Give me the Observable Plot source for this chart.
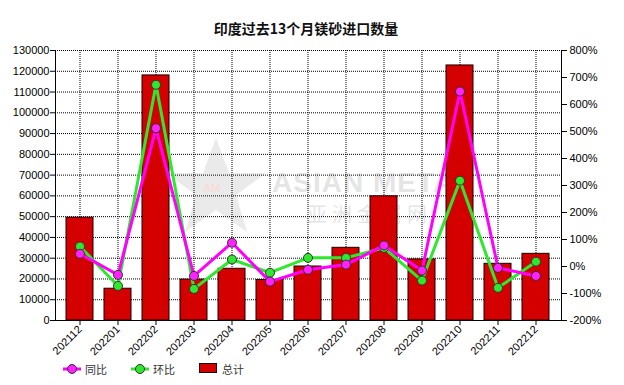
<!DOCTYPE html>
<html><head><meta charset="utf-8">
<script src="https://cdn.jsdelivr.net/npm/d3@7"></script>
<script src="https://cdn.jsdelivr.net/npm/@observablehq/plot@0.6"></script>
<style>
body{margin:0;background:#fff;width:624px;height:385px;position:relative;overflow:hidden;font-family:"Liberation Sans",Arial,sans-serif}
#title{position:absolute;left:0;top:19px;width:612px;text-align:center;font-family:"Noto Sans CJK SC",sans-serif;font-weight:bold;font-size:14px;line-height:18px;color:#111}
#chart{position:absolute;left:0;top:40px}
#wm{position:absolute;left:0;top:0;width:624px;height:385px;pointer-events:none}
.lg{position:absolute;font-family:"Noto Sans CJK SC",sans-serif;font-size:11px;color:#333;line-height:14px}
</style></head>
<body>
<svg id="wm" width="624" height="385">
  <g opacity="0.3">
    <polygon points="216,138 229,173 266,173 236,195 247,232 216,210 185,232 196,195 166,173 203,173" fill="#bbb"/>
    <text x="203" y="192" font-family="Liberation Sans,Arial" font-size="11" font-weight="bold" fill="#e88">AM</text>
    <text x="272" y="192" font-family="Liberation Sans,Arial" font-weight="bold" font-size="28" fill="#aaa" letter-spacing="1">ASIAN METAL</text>
    <text x="307" y="222" font-family="Noto Sans CJK SC" font-size="20" fill="#aaa" letter-spacing="5">亚洲金属网</text>
  </g>
</svg>
<div id="title">印度过去13个月镁砂进口数量</div>
<div id="chart"></div>
<div id="legend"></div>
<script>
const months = ["202112","202201","202202","202203","202204","202205","202206","202207","202208","202209","202210","202211","202212"];
const totals = [49500, 15300, 118000, 19700, 24900, 19500, 26000, 35000, 59800, 29400, 122800, 27300, 32100];
const yoy = [47, -31, 512, -35, 88, -56, -12, 7, 78, -15, 648, -5, -35];
const mom = [74, -72, 673, -83, 26, -23, 32, 32, 69, -52, 318, -79, 18];
const leftTicks = d3.range(0, 130001, 10000);
const rightTicks = d3.range(-200, 801, 100);
const seriesNames = ["同比", "环比", "总计"];

const pctToY = p => (p + 200) * 130;
const rows = months.map((m, i) => ({month: m, total: totals[i], yoy: yoy[i], mom: mom[i]}));
const grid = {stroke: "#000", strokeOpacity: 1, strokeDasharray: "1,1"};

const chart = Plot.plot({
  width: 624, height: 320,
  marginTop: 10, marginBottom: 40, marginLeft: 55, marginRight: 63,
  style: {fontFamily: "Liberation Sans, Arial, sans-serif", fontSize: "11px", color: "#000", background: "transparent"},
  x: {domain: months, paddingInner: 0.28, paddingOuter: 0.13, label: null},
  y: {domain: [0, 130000], label: null},
  marks: [
    Plot.gridY(leftTicks, grid),
    Plot.gridX(grid),
    Plot.barY(rows, {x: "month", y: "total", fill: "#d40000", stroke: "#1a0000", strokeWidth: 1}),
    Plot.line(rows, {x: "month", y: d => pctToY(d.mom), stroke: "#2ee82e", strokeWidth: 3}),
    Plot.dot(rows, {x: "month", y: d => pctToY(d.mom), r: 4.5, fill: "#2ee82e", stroke: "#333", strokeWidth: 1}),
    Plot.line(rows, {x: "month", y: d => pctToY(d.yoy), stroke: "#ff00ff", strokeWidth: 3}),
    Plot.dot(rows, {x: "month", y: d => pctToY(d.yoy), r: 4.5, fill: "#ff22ff", stroke: "#333", strokeWidth: 1}),
    Plot.ruleY([0], {stroke: "#000"}),
    Plot.axisY(leftTicks, {anchor: "left", tickSize: 5, tickPadding: 1, tickFormat: d => String(d), label: null}),
    Plot.axisY(rightTicks.map(pctToY), {anchor: "right", tickSize: 5, tickPadding: 3, tickFormat: v => Math.round(v / 130 - 200) + "%", label: null}),
    Plot.axisX({tickRotate: -45, tickSize: 5, tickPadding: 2, label: null}),
    Plot.frame({anchor: "left", stroke: "#000"}),
    Plot.frame({anchor: "right", stroke: "#000"})
  ]
});
document.getElementById("chart").appendChild(chart);

// legend
const lg = document.getElementById("legend");
const colors = ["#ff22ff", "#2ee82e"];
const lineColors = ["#ff00ff", "#2ee82e"];
const lx = [63, 131];
let html = "";
for (let i = 0; i < 2; i++) {
  html += `<svg style="position:absolute;left:${lx[i]}px;top:362px" width="20" height="14">
    <line x1="0" y1="7" x2="18" y2="7" stroke="${lineColors[i]}" stroke-width="3"/>
    <circle cx="9" cy="7" r="4.5" fill="${colors[i]}" stroke="#333" stroke-width="1"/></svg>`;
  html += `<div class="lg" style="left:${lx[i] + 22}px;top:362px">${seriesNames[i]}</div>`;
}
html += `<svg style="position:absolute;left:199px;top:363px" width="20" height="12"><rect x="0.5" y="0.5" width="17" height="9" fill="#d40000" stroke="#1a0000"/></svg>`;
html += `<div class="lg" style="left:222px;top:362px">${seriesNames[2]}</div>`;
lg.innerHTML = html;
</script>
</body></html>
